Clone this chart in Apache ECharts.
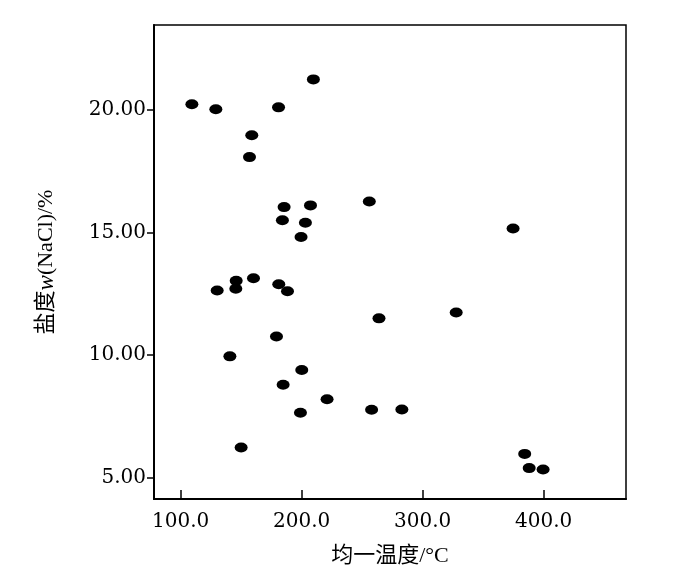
<!DOCTYPE html>
<html>
<head>
<meta charset="utf-8">
<script src="https://cdn.jsdelivr.net/npm/echarts@6/dist/echarts.min.js"></script>
<style>
  html, body { margin: 0; padding: 0; background: #fff; }
  #main { width: 700px; height: 583px; }
</style>
</head>
<body>
<div id="main"></div>
<script>
// 均一温度 (°C)
const temps = [
  109.3, 129.1, 180.9, 209.7, 158.8, 156.9, 185.5, 207.3, 255.9, 184.1, 203.1,
  199.5, 374.7, 130.2, 145.9, 145.6, 160.2, 181.1, 188.3, 263.9, 179.2, 140.7,
  200.1, 184.7, 221.0, 199.0, 257.8, 150.0, 282.8, 327.7, 384.3, 388.0, 399.5
];
// 盐度 w(NaCl) (%)
const salinity = [
  20.24, 20.03, 20.11, 21.25, 18.97, 18.08, 16.04, 16.11, 16.27, 15.50, 15.40,
  14.82, 15.17, 12.64, 13.03, 12.71, 13.14, 12.89, 12.61, 11.50, 10.76, 9.95,
  9.39, 8.79, 8.20, 7.65, 7.77, 6.23, 7.78, 11.74, 5.97, 5.39, 5.33
];

const points = temps.map((t, i) => [t, salinity[i]]);

const tickFont = '"DejaVu Serif", "Liberation Serif", serif';
const titleFont = '"Liberation Serif", "Noto Sans CJK SC", serif';

const chart = echarts.init(document.getElementById('main'));

const option = {
  backgroundColor: '#fff',
  animation: false,
  grid: {
    left: 154,
    right: 74,
    top: 25,
    bottom: 84,
    show: true,
    borderColor: '#000',
    borderWidth: 1.5
  },
  xAxis: {
    type: 'value',
    min: 78,
    max: 468,
    splitNumber: 4,
    minInterval: 100,
    maxInterval: 100,
    name: '均一温度/°C',
    nameLocation: 'middle',
    nameGap: 46,
    nameTextStyle: { fontFamily: titleFont, fontSize: 22, color: '#000' },
    axisLine: { lineStyle: { color: '#000', width: 2 } },
    axisTick: { inside: true, length: 9, lineStyle: { color: '#000', width: 1.5 } },
    axisLabel: {
      showMinLabel: false,
      showMaxLabel: false,
      margin: 13,
      fontFamily: tickFont,
      fontSize: 20,
      color: '#000',
      formatter: v => (v % 100 === 0 ? v.toFixed(1) : '')
    },
    splitLine: { show: false }
  },
  yAxis: {
    type: 'value',
    min: 4.13,
    max: 23.47,
    splitNumber: 4,
    minInterval: 5,
    maxInterval: 5,
    name: '盐度{i|w}(NaCl)/%',
    nameLocation: 'middle',
    nameGap: 96,
    nameRotate: 90,
    nameTextStyle: {
      fontFamily: titleFont,
      fontSize: 22,
      color: '#000',
      rich: {
        i: { fontFamily: '"Liberation Serif", serif', fontStyle: 'italic', fontSize: 23, color: '#000' }
      }
    },
    axisLine: { lineStyle: { color: '#000', width: 2 } },
    axisTick: { inside: false, length: 7, lineStyle: { color: '#000', width: 1.5 } },
    axisLabel: {
      showMinLabel: false,
      showMaxLabel: false,
      margin: 8,
      fontFamily: tickFont,
      fontSize: 20,
      color: '#000',
      formatter: v => (v % 5 === 0 ? v.toFixed(2) : '')
    },
    splitLine: { show: false }
  },
  series: [{
    type: 'scatter',
    data: points,
    symbol: 'circle',
    symbolSize: [13, 10],
    itemStyle: { color: '#000', opacity: 1 }
  }]
};

chart.setOption(option);
</script>
</body>
</html>
